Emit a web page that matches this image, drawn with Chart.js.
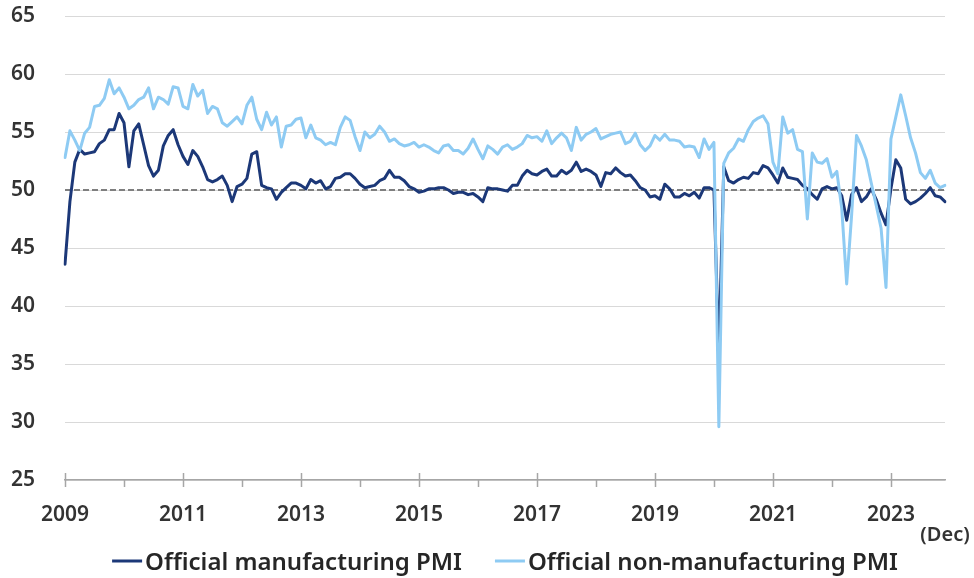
<!DOCTYPE html>
<html>
<head>
<meta charset="utf-8">
<title>Official PMI</title>
<script src="https://cdn.jsdelivr.net/npm/chart.js"></script>
<style>
  html, body { margin: 0; padding: 0; background: #ffffff; }
  canvas { display: block; }
</style>
</head>
<body>
<canvas id="pmiChart" width="974" height="578"></canvas>
<script>
// monthly readings, Jan 2009 - Dec 2023
var years = [2009, 2010, 2011, 2012, 2013, 2014, 2015, 2016, 2017, 2018, 2019, 2020, 2021, 2022, 2023];

var mfgPMI = [
	43.6, 49.0, 52.4, 53.5, 53.1, 53.2, 53.3, 54.0, 54.3, 55.2, 55.2, 56.6,
	55.8, 52.0, 55.1, 55.7, 53.9, 52.1, 51.2, 51.7, 53.8, 54.7, 55.2, 53.9,
	52.9, 52.2, 53.4, 52.9, 52.0, 50.9, 50.7, 50.9, 51.2, 50.4, 49.0, 50.3,
	50.5, 51.0, 53.1, 53.3, 50.4, 50.2, 50.1, 49.2, 49.8, 50.2, 50.6, 50.6,
	50.4, 50.1, 50.9, 50.6, 50.8, 50.1, 50.3, 51.0, 51.1, 51.4, 51.4, 51.0,
	50.5, 50.2, 50.3, 50.4, 50.8, 51.0, 51.7, 51.1, 51.1, 50.8, 50.3, 50.1,
	49.8, 49.9, 50.1, 50.1, 50.2, 50.2, 50.0, 49.7, 49.8, 49.8, 49.6, 49.7,
	49.4, 49.0, 50.2, 50.1, 50.1, 50.0, 49.9, 50.4, 50.4, 51.2, 51.7, 51.4,
	51.3, 51.6, 51.8, 51.2, 51.2, 51.7, 51.4, 51.7, 52.4, 51.6, 51.8, 51.6,
	51.3, 50.3, 51.5, 51.4, 51.9, 51.5, 51.2, 51.3, 50.8, 50.2, 50.0, 49.4,
	49.5, 49.2, 50.5, 50.1, 49.4, 49.4, 49.7, 49.5, 49.8, 49.3, 50.2, 50.2,
	50.0, 35.7, 52.0, 50.8, 50.6, 50.9, 51.1, 51.0, 51.5, 51.4, 52.1, 51.9,
	51.3, 50.6, 51.9, 51.1, 51.0, 50.9, 50.4, 50.1, 49.6, 49.2, 50.1, 50.3,
	50.1, 50.2, 49.5, 47.4, 49.6, 50.2, 49.0, 49.4, 50.1, 49.2, 48.0, 47.0,
	50.1, 52.6, 51.9, 49.2, 48.8, 49.0, 49.3, 49.7, 50.2, 49.5, 49.4, 49.0
];

var nonMfgPMI = [
	52.8, 55.1, 54.3, 53.4, 54.9, 55.4, 57.2, 57.3, 57.9, 59.5, 58.3, 58.8,
	58.0, 57.0, 57.3, 57.8, 58.0, 58.8, 57.0, 58.0, 57.8, 57.4, 58.9, 58.8,
	57.2, 57.0, 59.1, 58.1, 58.6, 56.6, 57.2, 57.0, 55.8, 55.5, 55.9, 56.3,
	55.7, 57.3, 58.0, 56.1, 55.2, 56.7, 55.6, 56.3, 53.7, 55.5, 55.6, 56.1,
	56.2, 54.5, 55.6, 54.5, 54.3, 53.9, 54.1, 53.9, 55.4, 56.3, 56.0, 54.6,
	53.4, 55.0, 54.5, 54.8, 55.5, 55.0, 54.2, 54.4, 54.0, 53.8, 53.9, 54.1,
	53.7, 53.9, 53.7, 53.4, 53.2, 53.8, 53.9, 53.4, 53.4, 53.1, 53.6, 54.4,
	53.5, 52.7, 53.8, 53.5, 53.1, 53.7, 53.9, 53.5, 53.7, 54.0, 54.7, 54.5,
	54.6, 54.2, 55.1, 54.0, 54.5, 54.9, 54.5, 53.4, 55.4, 54.3, 54.8, 55.0,
	55.3, 54.4, 54.6, 54.8, 54.9, 55.0, 54.0, 54.2, 54.9, 53.9, 53.4, 53.8,
	54.7, 54.3, 54.8, 54.3, 54.3, 54.2, 53.7, 53.8, 53.7, 52.8, 54.4, 53.5,
	54.1, 29.6, 52.3, 53.2, 53.6, 54.4, 54.2, 55.2, 55.9, 56.2, 56.4, 55.7,
	52.4, 51.4, 56.3, 54.9, 55.2, 53.5, 53.3, 47.5, 53.2, 52.4, 52.3, 52.7,
	51.1, 51.6, 48.4, 41.9, 47.8, 54.7, 53.8, 52.6, 50.6, 48.7, 46.7, 41.6,
	54.4, 56.3, 58.2, 56.4, 54.5, 53.2, 51.5, 51.0, 51.7, 50.6, 50.2, 50.4
];

var seriesNames = ["Official manufacturing PMI", "Official non-manufacturing PMI"];
var yMin = 25, yMax = 65, yStep = 5;
var neutralLevel = 50;
var lastMonthNote = "(Dec)";

var FONT = "'Noto Sans', 'Open Sans', 'DejaVu Sans', sans-serif";
var TEXT_COLOR = "#333333";
var DARK_BLUE = "#1c3878";
var LIGHT_BLUE = "#8ecbf3";

function buildLabels(){
	var lbs = [];
	for(var k = 0; k < years.length; k++){
		for(var m = 1; m <= 12; m++){
			lbs.push(years[k] + "-" + (m < 10 ? "0" + m : m));
		}
	}
	return lbs;
}

// dashed 50 line, year ticks, legend and the "(Dec)" note
var extras = {
	id: "extras",
	beforeDatasetsDraw: function(chart){
		var ctx = chart.ctx, area = chart.chartArea;
		var y = chart.scales.y.getPixelForValue(neutralLevel);
		ctx.save();
		ctx.strokeStyle = "#7f7f7f";
		ctx.lineWidth = 2;
		ctx.setLineDash([6, 3]);
		ctx.beginPath();
		ctx.moveTo(area.left, y);
		ctx.lineTo(area.right, y);
		ctx.stroke();
		ctx.restore();
	},
	afterDraw: function(chart){
		var ctx = chart.ctx, area = chart.chartArea, xs = chart.scales.x;
		ctx.save();

		// year ticks on the x axis
		ctx.strokeStyle = "#a6a6a6";
		ctx.lineWidth = 1.5;
		for(var k = 0; k < years.length; k++){
			var x = Math.round(xs.getPixelForValue(k * 12)) + 0.5;
			var major = (k % 2 == 0);
			ctx.beginPath();
			ctx.moveTo(x, major ? area.bottom - 7 : area.bottom);
			ctx.lineTo(x, area.bottom + 7);
			ctx.stroke();
		}

		// note under the last tick
		ctx.fillStyle = TEXT_COLOR;
		ctx.font = "600 20px " + FONT;
		ctx.textAlign = "center";
		ctx.textBaseline = "middle";
		ctx.fillText(lastMonthNote, 945, 535);

		// legend
		var colors = [DARK_BLUE, LIGHT_BLUE];
		var lineLen = 30, gap = 3, itemGap = 33, legendY = 561;
		ctx.font = "600 24px " + FONT;
		var widths = [];
		var total = 0;
		for(var i = 0; i < seriesNames.length; i++){
			widths.push(ctx.measureText(seriesNames[i]).width);
			total += lineLen + gap + widths[i];
		}
		total += itemGap * (seriesNames.length - 1);
		var cx = (area.left + area.right) / 2 - total / 2;
		ctx.textAlign = "left";
		for(var i = 0; i < seriesNames.length; i++){
			ctx.strokeStyle = colors[i];
			ctx.lineWidth = 3;
			ctx.setLineDash([]);
			ctx.beginPath();
			ctx.moveTo(cx, legendY);
			ctx.lineTo(cx + lineLen, legendY);
			ctx.stroke();
			ctx.fillStyle = "#262626";
			ctx.fillText(seriesNames[i], cx + lineLen + gap, legendY + 2);
			cx += lineLen + gap + widths[i] + itemGap;
		}
		ctx.restore();
	}
};

function initChart(){
	var labels = buildLabels();
	var canvas = document.getElementById("pmiChart");

	var chartData = {
		labels: labels,
		datasets: [
			{
				label: seriesNames[0],
				data: mfgPMI,
				borderColor: DARK_BLUE,
				borderWidth: 3,
				pointRadius: 0,
				tension: 0,
				borderJoinStyle: "round",
				borderCapStyle: "round",
				order: 2
			},
			{
				label: seriesNames[1],
				data: nonMfgPMI,
				borderColor: LIGHT_BLUE,
				borderWidth: 3,
				pointRadius: 0,
				tension: 0,
				borderJoinStyle: "round",
				borderCapStyle: "round",
				order: 1
			}
		]
	};

	new Chart(canvas, {
		type: "line",
		data: chartData,
		plugins: [extras],
		options: {
			responsive: false,
			animation: false,
			devicePixelRatio: 1,
			layout: { padding: { top: 16, right: 29, left: 0, bottom: 0 } },
			plugins: {
				legend: { display: false },
				tooltip: { enabled: false }
			},
			scales: {
				x: {
					type: "category",
					offset: false,
					grid: { display: false, drawTicks: false },
					border: { display: true, color: "#a6a6a6", width: 1.5 },
					ticks: {
						autoSkip: false,
						maxRotation: 0,
						padding: 22,
						color: TEXT_COLOR,
						font: { family: FONT, size: 21, weight: "600" },
						callback: function(value, index){
							var lb = this.getLabelForValue(value);
							var yr = parseInt(lb.substring(0, 4), 10);
							if(lb.substring(5) == "01" && (yr - years[0]) % 2 == 0) return String(yr);
							return "";
						}
					},
					afterFit: function(scale){
						scale.height = 98;
						scale.paddingLeft = 0;
						scale.paddingRight = 0;
					}
				},
				y: {
					min: yMin,
					max: yMax,
					grid: { color: "#d9d9d9", lineWidth: 1, drawTicks: false },
					border: { display: false },
					ticks: {
						stepSize: yStep,
						padding: 30,
						color: TEXT_COLOR,
						font: { family: FONT, size: 21, weight: "600" }
					},
					afterFit: function(scale){
						scale.width = 65;
						scale.paddingTop = 0;
						scale.paddingBottom = 0;
					}
				}
			}
		}
	});
}

initChart();
</script>
</body>
</html>
